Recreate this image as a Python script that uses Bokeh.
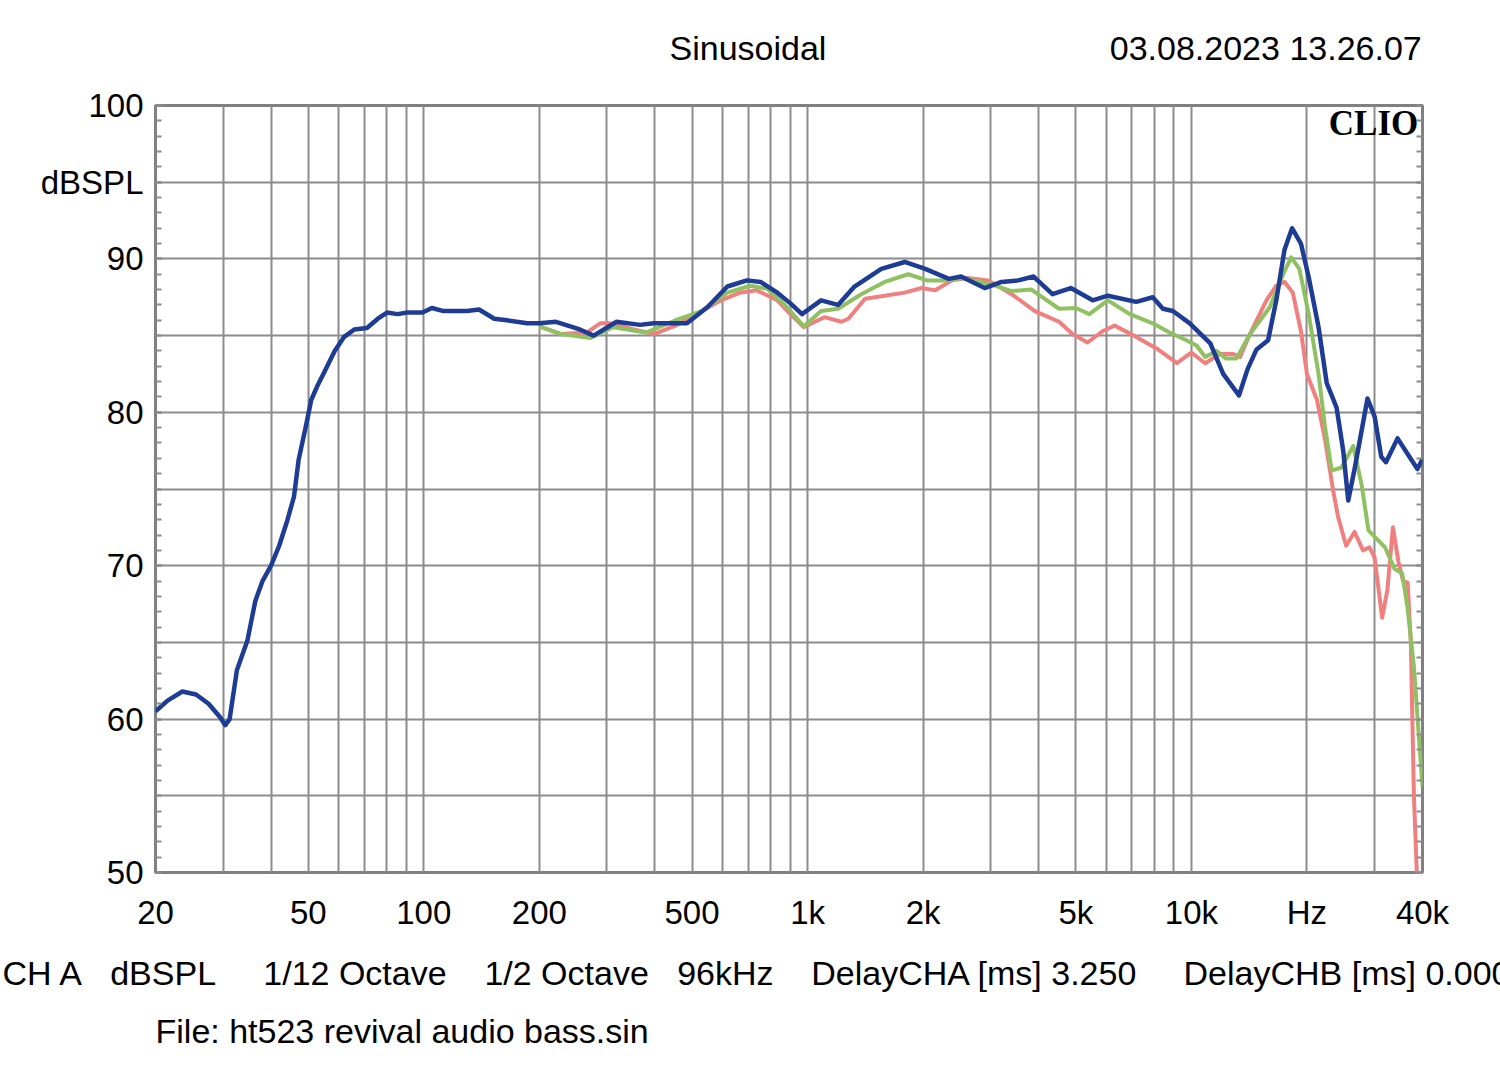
from bokeh.plotting import figure
from bokeh.models import FixedTicker, LinearAxis, Label, Range1d, Title
from bokeh.embed import file_html
from bokeh.resources import INLINE

# ---------------- data ----------------
blue_f = [20, 21.5, 23.5, 25.5, 27.5, 29.5, 30.4, 31.2, 32.6, 34.7, 36.4, 38, 40, 42, 44.1, 45.9, 47.2,
          49.5, 50.9, 53, 55, 58.6, 61.9, 65.9, 71.1, 75.9, 80.2, 85.5, 90.6, 99.2, 105, 112.6, 129.6,
          139.3, 152.6, 164.8, 186, 200, 221, 255, 277, 318, 366, 397, 485, 548, 618, 695, 754, 834,
          902, 967, 1084, 1200, 1325, 1556, 1791, 2025, 2334, 2510, 2893, 3200, 3540, 3880, 4345, 4850,
          5530, 6060, 7180, 7930, 8430, 8950, 9900, 11200, 12100, 13300, 14000, 14780, 15840, 16640,
          17480, 18290, 19290, 20210, 21440, 22520, 23890, 24860, 25620, 26660, 28760, 30030, 31230,
          32130, 34440, 36550, 38800, 40000]
blue_db = [60.5, 61.2, 61.8, 61.6, 61.0, 60.1, 59.6, 60.0, 63.2, 65.1, 67.7, 69.0, 70.0, 71.3, 72.95, 74.5, 76.9,
           79.3, 80.8, 81.8, 82.6, 84.0, 84.9, 85.4, 85.5, 86.1, 86.5, 86.4, 86.5, 86.5, 86.8, 86.6, 86.6,
           86.7, 86.1, 86.0, 85.8, 85.8, 85.9, 85.4, 85.0, 85.9, 85.7, 85.8, 85.8, 86.85, 88.2, 88.6, 88.5, 87.8,
           87.1, 86.4, 87.3, 87.0, 88.2, 89.35, 89.8, 89.35, 88.7, 88.85, 88.1, 88.5, 88.6, 88.85, 87.7, 88.1,
           87.3, 87.6, 87.2, 87.5, 86.75, 86.6, 85.8, 84.5, 82.5, 81.1, 82.8, 84.1, 84.7, 87.3,
           90.6, 92.0, 91.0, 88.8, 85.55, 81.9, 80.3, 77.5, 74.25, 76.4, 80.9, 79.7, 77.1,
           76.75, 78.3, 77.3, 76.3, 76.95]

green_f = [200, 228, 272, 312, 379, 453, 530, 618, 709, 785, 884, 977, 1084, 1200, 1380, 1588, 1830, 2046,
           2334, 2510, 2955, 3400, 3830, 4520, 5000, 5420, 6060, 6910, 7930, 8770, 9700, 10310, 10860, 11640,
           12300, 13100, 14210, 16000, 17340, 18190, 19110, 20210, 21440, 22300, 23200, 24600, 26400, 27750,
           28930, 30400, 31950, 33800, 35400, 36550, 38000, 39100, 40000]
green_db = [85.6, 85.1, 84.85, 85.55, 85.2, 86.0, 86.6, 87.8, 88.25, 88.05, 86.85, 85.6, 86.6, 86.75, 87.7, 88.5, 89.0, 88.6,
            88.6, 88.75, 88.4, 87.9, 88.0, 86.75, 86.8, 86.4, 87.3, 86.4, 85.8, 85.2, 84.7, 84.35, 83.6, 84.0,
            83.5, 83.5, 85.1, 86.85, 89.0, 90.1, 89.35, 86.4, 82.5, 79.0, 76.2, 76.4, 77.8, 75.3,
            72.3, 71.75, 71.2, 69.8, 69.5, 67.3, 63.4, 59.0, 55.6]

red_f = [200, 228, 266, 288, 307, 353, 397, 453, 530, 595, 667, 737, 834, 902, 977, 1106, 1226, 1277, 1412,
         1588, 1790, 1983, 2150, 2380, 2610, 2955, 3400, 3910, 4520, 4900, 5360, 5880, 6310, 7070, 8130, 9170,
         9990, 10860, 11860, 12870, 13390, 14210, 15680, 16640, 17480, 18370, 19290, 20000, 21240, 22300,
         23400, 24100, 25300, 26600, 28000, 29100, 30000, 31400, 32400, 33500, 34600, 35600, 36600, 37300,
         38000, 38800]
red_db = [85.6, 85.1, 85.2, 85.8, 85.8, 85.4, 85.1, 85.65, 86.6, 87.3, 87.8, 87.95, 87.3, 86.4, 85.55, 86.2, 85.9, 86.1, 87.4,
          87.6, 87.8, 88.1, 87.95, 88.6, 88.75, 88.6, 87.7, 86.6, 85.9, 85.1, 84.55, 85.3, 85.65, 85.0, 84.15, 83.2,
          83.9, 83.2, 83.8, 83.8, 83.6, 85.1, 87.3, 88.25, 88.5, 87.8, 85.3, 82.5, 80.8, 78.2,
          74.9, 73.2, 71.3, 72.2, 71.0, 71.2, 70.55, 66.6, 68.4, 72.5, 70.3, 69.0, 68.9, 64.9,
          54.9, 49.0]

x_ticks = [20, 50, 100, 200, 500, 1000, 2000, 5000, 10000, 20000, 40000]
x_tick_labels = ["20", "50", "100", "200", "500", "1k", "2k", "5k", "10k", "Hz", "40k"]
x_grid = [20, 30, 40, 50, 60, 70, 80, 90, 100, 200, 300, 400, 500, 600, 700, 800, 900,
          1000, 2000, 3000, 4000, 5000, 6000, 7000, 8000, 9000, 10000, 20000, 30000, 40000]
y_ticks = [50, 60, 70, 80, 90, 95, 100]
y_tick_labels = ["50", "60", "70", "80", "90", "dBSPL", "100"]
y_grid = [50, 55, 60, 65, 70, 75, 80, 85, 90, 95, 100]
y_minor = list(range(50, 101))

title_left = "Sinusoidal"
title_right = "03.08.2023 13.26.07"
info_items = ["CH A", "dBSPL", "1/12 Octave", "1/2 Octave", "96kHz", "DelayCHA [ms] 3.250", "DelayCHB [ms] 0.000"]
info_gaps = [3, 5, 4, 3, 4, 5]
file_line = "File: ht523 revival audio bass.sin"

FONT = "Liberation Sans"
GRID = "#8c8c8c"
NB = "\u00a0"

p = figure(frame_width=1267, frame_height=767, x_axis_type="log",
           x_range=Range1d(20, 40000), y_range=Range1d(50, 100),
           output_backend="svg", toolbar_location=None,
           min_border_left=155, min_border_right=78, min_border_top=105, min_border_bottom=202,
           background_fill_color="white", border_fill_color="white")

p.outline_line_color = "#808080"
p.outline_line_width = 3

p.xgrid.ticker = FixedTicker(ticks=x_grid)
p.ygrid.ticker = FixedTicker(ticks=y_grid)
for g in (p.xgrid, p.ygrid):
    g.grid_line_color = GRID
    g.grid_line_width = 2
    g.grid_line_alpha = 1.0

xa = p.xaxis[0]
xa.ticker = FixedTicker(ticks=x_ticks)
xa.major_label_overrides = {t: l for t, l in zip(x_ticks, x_tick_labels)}
xa.axis_line_color = None
xa.major_tick_line_color = None
xa.minor_tick_line_color = None
xa.major_label_text_font = FONT
xa.major_label_text_font_size = "33px"
xa.major_label_text_color = "black"
xa.major_label_standoff = 15

ya = p.yaxis[0]
ya.ticker = FixedTicker(ticks=y_ticks, minor_ticks=y_minor)
ya.major_label_overrides = {t: l for t, l in zip(y_ticks, y_tick_labels)}
ya.axis_line_color = None
ya.major_tick_line_color = GRID
ya.major_tick_line_width = 2
ya.major_tick_in = 6
ya.major_tick_out = 0
ya.minor_tick_line_color = GRID
ya.minor_tick_line_width = 2
ya.minor_tick_in = 6
ya.minor_tick_out = 0
ya.major_label_text_font = FONT
ya.major_label_text_font_size = "33px"
ya.major_label_text_color = "black"
ya.major_label_standoff = 12

ra = LinearAxis(ticker=FixedTicker(ticks=y_ticks, minor_ticks=y_minor))
ra.axis_line_color = None
ra.major_label_text_font_size = "0px"
ra.major_label_text_alpha = 0
ra.major_tick_line_color = GRID
ra.major_tick_line_width = 2
ra.major_tick_in = 6
ra.major_tick_out = 0
ra.minor_tick_line_color = GRID
ra.minor_tick_line_width = 2
ra.minor_tick_in = 6
ra.minor_tick_out = 0
ra.major_label_standoff = 0
p.add_layout(ra, "right")

p.line(red_f, red_db, line_color="#f08080", line_width=4, line_join="round")
p.line(green_f, green_db, line_color="#8fc162", line_width=4, line_join="round")
p.line(blue_f, blue_db, line_color="#1f3c94", line_width=4.5, line_join="round")

# CLIO logo inside the frame (top right)
p.add_layout(Label(x=39000, y=98.85, text="CLIO", text_align="right", text_baseline="middle",
                   text_font="Liberation Serif", text_font_size="35px", text_font_style="bold",
                   text_color="black"))

# top header line (second blank line lifts it above the frame)
top_text = title_left + NB * 30 + title_right + "\n" + NB
p.add_layout(Title(text=top_text, align="left", offset=514, standoff=2,
                   text_font=FONT, text_font_size="34px", text_font_style="normal",
                   text_color="black"), "above")

# bottom info lines
info_text = info_items[0]
for gap, item in zip(info_gaps, info_items[1:]):
    info_text += NB * gap + item
p.add_layout(Title(text=info_text, align="left", offset=-153, standoff=36,
                   text_font=FONT, text_font_size="34px", text_font_style="normal",
                   text_color="black"), "below")
p.add_layout(Title(text=file_line, align="left", offset=0, standoff=0,
                   text_font=FONT, text_font_size="34px", text_font_style="normal",
                   text_color="black"), "below")

open("out.html", "w").write(file_html(p, INLINE))
